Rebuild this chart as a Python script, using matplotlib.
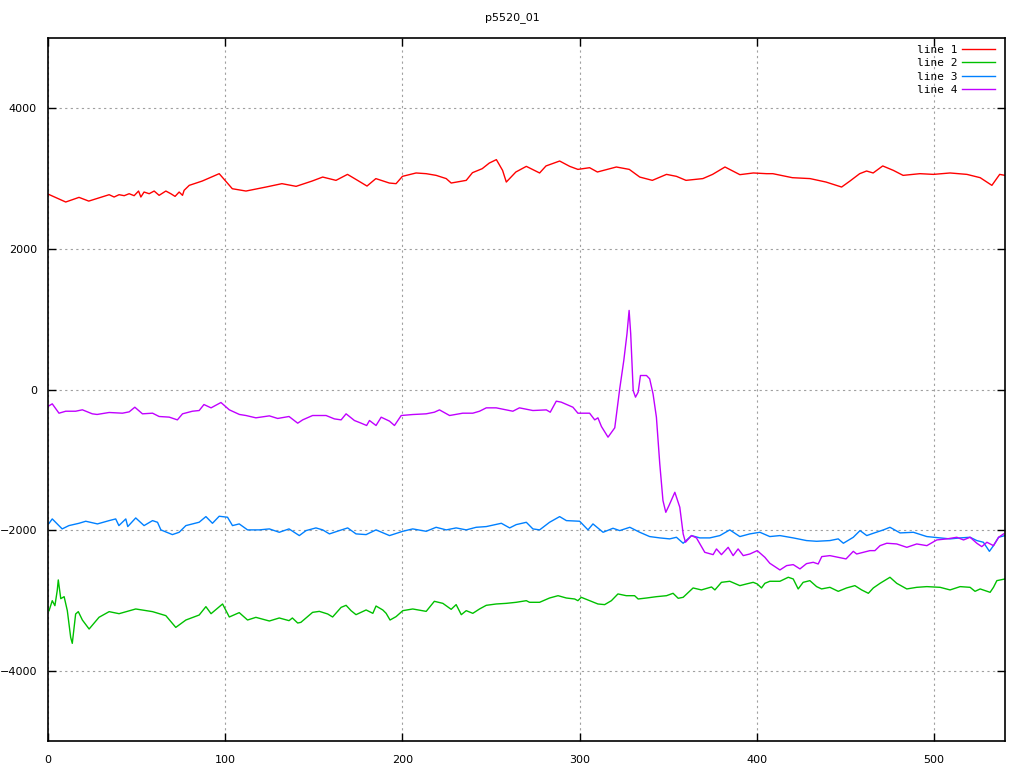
import matplotlib
matplotlib.use("Agg")
import matplotlib.pyplot as plt

title = "p5520_01"
labels = ["line 1", "line 2", "line 3", "line 4"]
colors = ["#ff0000", "#00c000", "#0080ff", "#c000ff"]

x1 = [0, 10, 17.5, 23, 34.5, 37.3, 40.1, 43, 45.8, 48.6, 51.1, 52.4, 54.2, 57.1, 59.9, 62.7, 66.5, 69.3, 71.7, 74,
      75.9, 76.8, 79.7, 87, 96.6, 104, 111.7, 123, 132, 140, 149, 155, 162.5, 169,
      174, 180, 185, 192.6, 196.4, 200, 207.7, 213.4, 219, 224.7, 227.5, 236, 239.5, 245, 249, 253, 256.5, 258.6,
      264, 269.9, 277.4, 281, 288.7, 294.4, 299, 305.6, 310, 320.7, 328, 333.9, 341, 349, 354.6, 360, 369.5, 375,
      382, 390.4, 398, 405.5, 409, 420, 430, 439, 447.8, 452.5, 458, 461.9, 465.6, 471, 477, 482.5, 492, 499.6,
      509, 518.5, 526, 532.6, 537, 540]
y1 = [2780, 2667, 2733, 2680, 2771, 2738, 2771, 2757, 2785, 2757, 2823, 2738, 2809, 2785, 2823, 2762, 2823, 2785,
      2747, 2809, 2762, 2833, 2904, 2965, 3070, 2856, 2823, 2880, 2928, 2890, 2965, 3022,
      2975, 3060, 2985, 2894, 3000, 2937, 2928, 3032, 3080, 3070, 3046, 3000, 2937, 2975, 3084, 3141, 3221, 3270,
      3117, 2951, 3094, 3174, 3080, 3180, 3250, 3174, 3131, 3155, 3094, 3165, 3131, 3022, 2975, 3060, 3032, 2975,
      3000, 3060, 3165, 3056, 3080, 3070, 3070, 3013, 3000, 2951, 2880, 2965, 3070, 3108, 3080, 3180, 3117, 3046,
      3070, 3060, 3080, 3060, 3013, 2904, 3060, 3046]

x2 = [0.6, 2.4, 3.9, 5.2, 5.8, 7.2, 9.1, 10.9, 12.8, 13.7, 15.6, 17.1, 19.4, 23.2, 28.8, 34.5, 40.1, 49.5, 59, 66.5,
      72.1, 77.8, 85.3, 89.1, 92, 98.5, 102.3, 107.9, 112.6, 117.3, 124.9, 130.5, 136, 137.9, 140.9, 142.7, 149.3,
      153.1, 157.8, 160.6, 165.4, 168.2, 171, 173.8, 179.5, 183.3, 185.1, 188.9, 190.8, 193, 196.4, 200.2, 205.8,
      213.4, 218, 222.8, 227.5, 230.3, 233.2, 236, 239.7, 243.5, 247.3, 252.9, 258.6, 264.2, 269.9, 271.7, 277.4,
      283, 287.8, 292.5, 297.2, 299, 300.9, 305.6, 310.3, 314.1, 317.9, 321.6, 326.3, 331, 333, 337.7, 343.3, 349,
      352.7, 355.6, 358.4, 364, 368.7, 374.4, 376.3, 380, 384.7, 390.4, 394.1, 397.9, 400.2, 402.6, 404.5, 407.3,
      413, 417.7, 420.5, 423.3, 426.1, 429.9, 433.7, 436.5, 441.2, 445.9, 450.6, 455.3, 459.1, 462.9, 465.7, 469.5,
      475.1, 478.9, 484.6, 490.2, 495.9, 503.4, 509, 514.7, 520.3, 523.1, 526, 531.6, 533.5, 535.4, 540]
y2 = [-3146, -3004, -3075, -2861, -2709, -2975, -2947, -3146, -3526, -3611, -3193, -3160, -3279, -3407, -3240,
      -3160, -3189, -3122, -3160, -3217, -3384, -3279, -3208, -3089, -3189, -3051, -3236, -3174, -3279, -3241,
      -3293, -3250, -3288, -3250, -3322, -3312, -3170, -3156, -3193, -3236, -3099, -3070, -3146, -3203, -3136,
      -3184, -3080, -3136, -3184, -3279, -3231, -3146, -3122, -3156, -3013, -3042, -3127, -3060, -3203, -3146,
      -3184, -3122, -3070, -3051, -3042, -3027, -3004, -3027, -3027, -2966, -2933, -2966, -2980, -3004, -2956,
      -3004, -3051, -3060, -3004, -2908, -2933, -2933, -2980, -2966, -2947, -2933, -2899, -2970, -2956, -2823,
      -2851, -2809, -2851, -2743, -2728, -2790, -2766, -2743, -2766, -2823, -2757, -2728, -2728, -2671, -2695,
      -2837, -2743, -2719, -2804, -2837, -2814, -2871, -2823, -2790, -2851, -2899, -2823, -2757, -2671, -2757,
      -2837, -2814, -2804, -2814, -2851, -2804, -2814, -2871, -2837, -2885, -2814, -2719, -2695]

x3 = [0.6, 2.4, 5.2, 8, 11.8, 17.5, 21.3, 27.9, 34.5, 38.2, 40, 43.9, 45, 49.5, 54.2, 59, 61.8, 63.7, 70.2, 74,
      77.8, 85.3, 89.1, 92.8, 96.6, 101.3, 104.1, 107.9, 112.6, 119.2, 124.9, 130.5, 136, 141.8, 145.6, 151.2, 155,
      158.8, 164.4, 169.1, 173.8, 179.5, 185.1, 192.7, 200.2, 205.8, 213.4, 219, 224.7, 230.3, 236, 241.6, 247.3,
      255.8, 260.5, 264.2, 269.9, 273.6, 277.4, 283, 288.7, 292.5, 300, 304.7, 307.5, 313.2, 318.8, 322.6, 328.3,
      333.9, 339.5, 345.2, 350.8, 354.6, 358.4, 363.1, 367.8, 373.4, 379.1, 384.7, 390.4, 396, 401.7, 407.3, 413,
      420.5, 428, 433.7, 441.2, 445.9, 448.8, 454.4, 458.2, 462, 465.7, 471.4, 475.1, 480.8, 488.3, 495.9, 503.4,
      509, 514.7, 520.3, 524.1, 527.8, 531.2, 533.5, 536.4, 540]
y3 = [-1903, -1841, -1912, -1983, -1936, -1903, -1874, -1912, -1865, -1841, -1936, -1841, -1950, -1827, -1936,
      -1865, -1889, -1997, -2064, -2031, -1936, -1888, -1808, -1903, -1803, -1817, -1936, -1912, -1997, -1997,
      -1983, -2031, -1983, -2078, -2007, -1969, -1997, -2054, -2007, -1969, -2054, -2064, -1997, -2078, -2017,
      -1983, -2017, -1960, -1997, -1969, -1997, -1960, -1950, -1903, -1969, -1922, -1889, -1983, -1997, -1889,
      -1808, -1865, -1874, -1997, -1912, -2031, -1974, -2007, -1960, -2031, -2092, -2111, -2125, -2102, -2187,
      -2078, -2111, -2111, -2078, -1997, -2092, -2054, -2031, -2092, -2078, -2111, -2149, -2159, -2149, -2125,
      -2187, -2102, -2007, -2078, -2045, -1997, -1960, -2040, -2031, -2092, -2111, -2125, -2111, -2102, -2149,
      -2173, -2302, -2221, -2102, -2078]

x4 = [0, 2.4, 6.2, 10, 15.6, 19.4, 25, 27.7, 34.5, 42, 45.8, 49, 53.3, 59, 62.7, 68.4, 73, 75.9, 81.5, 85.3, 88,
      92, 97.6, 102.3, 108, 111.7, 117.3, 124.9, 129.6, 136, 140.9, 143.7, 149.3, 156.9, 161.6, 165.4, 168.2, 172.9,
      176.7, 179.8, 181.4, 185.1, 188, 192.7, 195.5, 199.3, 205.8, 213.4, 218, 220.9, 226.6, 234, 239.7, 243.5,
      247.3, 252.9, 258.6, 262.3, 266, 273.6, 281.2, 283.4, 286.8, 289.6, 296.2, 299, 305.6, 308.5, 310.3, 312.3,
      316, 319.8, 322.6, 324.9, 326.7, 327.9, 328.8, 330.2, 331.5, 333, 334.3, 337.7, 339.5, 341.4, 343.3, 345.2,
      347, 348.6, 350.4, 353.7, 356.5, 358.4, 359.7, 363.1, 365.9, 370.6, 375.3, 377.2, 380, 383.8, 386.6, 389.4,
      392.3, 396, 400.2, 404.5, 407.3, 413, 416.8, 420.5, 424.3, 428, 431.8, 434.6, 436.6, 441.2, 445.9, 450.3,
      454.4, 456.3, 460, 463.8, 466.6, 469.5, 473.3, 478.9, 484.6, 490.2, 495.9, 501.5, 507.2, 512.8, 516.6, 520.3,
      524.1, 526.9, 529.8, 533.5, 536.4, 539.2]
y4 = [-240, -204, -337, -309, -309, -289, -346, -355, -327, -337, -318, -252, -346, -337, -384, -393, -432, -346,
      -309, -299, -214, -261, -185, -289, -355, -370, -403, -375, -412, -384, -479, -432, -370, -370, -418, -432,
      -346, -441, -479, -512, -441, -512, -394, -450, -512, -370, -356, -346, -323, -290, -370, -337, -337, -309,
      -261, -261, -290, -309, -261, -299, -290, -323, -166, -180, -252, -337, -337, -432, -403, -527, -678, -545,
      10, 413, 793, 1125, 793, -14, -109, -38, 199, 199, 152, -61, -394, -1058, -1580, -1747, -1651, -1462, -1675,
      -2054, -2173, -2078, -2111, -2316, -2349, -2268, -2349, -2245, -2363, -2268, -2363, -2340, -2292, -2387,
      -2472, -2567, -2505, -2491, -2552, -2477, -2458, -2482, -2377, -2363, -2387, -2410, -2302, -2340, -2316,
      -2292, -2292, -2221, -2187, -2197, -2245, -2197, -2221, -2140, -2125, -2102, -2140, -2102, -2187, -2235,
      -2173, -2221, -2102, -2054]

xticks = [0, 100, 200, 300, 400, 500]
yticks = [-4000, -2000, 0, 2000, 4000]

plt.rcParams['font.family'] = ['DejaVu Sans']
fig = plt.figure(figsize=(10.24, 7.68), dpi=100)
ax = fig.add_axes([48 / 1024, 27 / 768, 957 / 1024, 703 / 768])

for xs, ys, c, lab in zip([x1, x2, x3, x4], [y1, y2, y3, y4], colors, labels):
    ax.plot(xs, ys, color=c, lw=1.0, label=lab)

ax.set_xlim(0, 540)
ax.set_ylim(-5000, 5000)
ax.set_xticks(xticks)
ax.set_yticks(yticks)
ax.tick_params(direction='in', length=6, width=1, top=True, right=True, labelsize=8, pad=8)
ax.tick_params(axis='x', pad=10)
ax.grid(True, color='#a0a0a0', linestyle=(0, (2, 3)), lw=0.8)
for s in ax.spines.values():
    s.set_linewidth(1.2)

leg = ax.legend(loc='upper right', frameon=False, markerfirst=False,
                handlelength=3.0, handletextpad=0.4, labelspacing=0.3,
                borderpad=0, borderaxespad=0,
                bbox_to_anchor=(1 - 10 / 957, 1 - 7 / 703),
                prop={'family': 'DejaVu Sans Mono', 'size': 8})

fig.text(0.5, 1 - 18 / 768, title, ha='center', va='center', fontsize=8)
fig.savefig('out.png', dpi=100)
